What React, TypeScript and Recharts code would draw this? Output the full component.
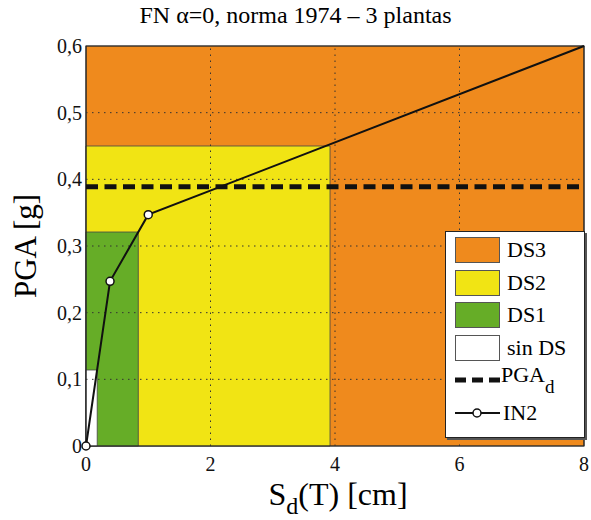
import { ComposedChart, Line, ReferenceArea, ReferenceLine, XAxis, YAxis } from "recharts"

const xTicks = [0, 2, 4, 6, 8]
const yTicks = [0, 0.1, 0.2, 0.3, 0.4, 0.5, 0.6]

// IN2 capacity curve
const in2X = [0, 0.386, 1.0, 8]
const in2Y = [0, 0.247, 0.347, 0.6]

const pgaD = 0.389

// damage state zones, each spans from the origin to (zoneX, zoneY)
const zoneNames = ["DS3", "DS2", "DS1", "sin DS"]
const zoneX = [8, 3.92, 0.84, 0.18]
const zoneY = [0.6, 0.45, 0.321, 0.114]
const zoneColors = ["#EF8A1D", "#F1E414", "#66AD27", "#FFFFFF"]

const font = "'Liberation Serif', 'DejaVu Serif', serif"

const in2Data = in2X.map((x, i) => ({ x, y: in2Y[i] }))

const fmtY = (v: number) => (v === 0 ? "0" : v.toFixed(1).replace(".", ","))

function Dot(props: any) {
  const { cx, cy, index } = props
  if (index > 2) return <g key={"d" + index} />
  return <circle key={"d" + index} cx={cx} cy={cy} r={4} fill="#fff" stroke="#111" strokeWidth={1.5} />
}

function LegendBox() {
  const row = { display: "flex", alignItems: "center", height: 32.5 }
  const txt = { marginLeft: 7, fontSize: 22 }
  return (
    <div
      style={{
        position: "absolute",
        left: 445,
        top: 231,
        width: 140,
        height: 207,
        background: "#fff",
        border: "1px solid #222",
        boxShadow: "2px 2px 0 #555",
        fontFamily: font,
        padding: "2px 0 0 9px",
        boxSizing: "border-box",
      }}
    >
      {zoneNames.map((n, i) => (
        <div key={n} style={row}>
          <div style={{ width: 45, height: 26, background: zoneColors[i], border: "1px solid #555", boxSizing: "border-box" }} />
          <span style={txt}>{n}</span>
        </div>
      ))}
      <div style={row}>
        <svg width={45} height={10}>
          <line x1={0} y1={5} x2={45} y2={5} stroke="#111" strokeWidth={5} strokeDasharray="11 6" />
        </svg>
        <span style={{ ...txt, marginLeft: 1 }}>
          PGA<sub style={{ fontSize: 19, verticalAlign: "-11px" }}>d</sub>
        </span>
      </div>
      <div style={row}>
        <svg width={45} height={12}>
          <line x1={0} y1={6} x2={45} y2={6} stroke="#111" strokeWidth={2} />
          <circle cx={22} cy={6} r={4} fill="#fff" stroke="#111" strokeWidth={1.5} />
        </svg>
        <span style={{ ...txt, marginLeft: 3 }}>IN2</span>
      </div>
    </div>
  )
}

export default function App() {
  return (
    <div style={{ position: "absolute", left: 0, top: 0, width: 591, height: 520, background: "#fff", fontFamily: font }}>
      <ComposedChart width={591} height={520} data={in2Data} margin={{ top: 46, right: 7, bottom: 0, left: 0 }}>
        {zoneNames.map((n, i) => (
          <ReferenceArea
            key={n}
            x1={0}
            x2={zoneX[i]}
            y1={0}
            y2={zoneY[i]}
            fill={zoneColors[i]}
            fillOpacity={1}
            stroke="#444"
            strokeOpacity={0.8}
            ifOverflow="visible"
          />
        ))}
        {xTicks.slice(1, -1).map((t) => (
          <ReferenceLine key={"gx" + t} x={t} stroke="#333" strokeDasharray="1.5 4.5" />
        ))}
        {yTicks.slice(1, -1).map((t) => (
          <ReferenceLine key={"gy" + t} y={t} stroke="#333" strokeDasharray="1.5 4.5" />
        ))}
        <XAxis
          xAxisId="in"
          dataKey="x"
          type="number"
          domain={[0, 8]}
          ticks={xTicks}
          height={0}
          mirror
          tick={false}
          tickSize={5}
          axisLine={false}
          stroke="#222"
        />
        <XAxis
          dataKey="x"
          type="number"
          domain={[0, 8]}
          ticks={xTicks}
          height={74}
          tickLine={false}
          axisLine={false}
          tickMargin={5}
          tick={{ fill: "#111", fontSize: 20, fontFamily: font }}
        />
        <XAxis
          xAxisId="top"
          orientation="top"
          dataKey="x"
          type="number"
          domain={[0, 8]}
          ticks={xTicks}
          height={0}
          mirror
          tick={false}
          tickSize={5}
          axisLine={false}
          stroke="#222"
        />
        <YAxis
          yAxisId="in"
          type="number"
          domain={[0, 0.6]}
          ticks={yTicks}
          width={0}
          mirror
          tick={false}
          tickSize={5}
          axisLine={false}
          stroke="#222"
        />
        <YAxis
          type="number"
          domain={[0, 0.6]}
          ticks={yTicks}
          width={86}
          tickLine={false}
          tickSize={4}
          axisLine={false}
          tickMargin={0}
          tickFormatter={fmtY}
          tick={{ fill: "#111", fontSize: 20, fontFamily: font }}
        />
        <YAxis
          yAxisId="right"
          orientation="right"
          type="number"
          domain={[0, 0.6]}
          ticks={yTicks}
          width={0}
          mirror
          tick={false}
          tickSize={5}
          axisLine={false}
          stroke="#222"
        />
        <ReferenceLine y={pgaD} stroke="#111" strokeWidth={5} strokeDasharray="12 6.5" />
        <Line
          dataKey="y"
          stroke="#111"
          strokeWidth={2}
          dot={Dot}
          activeDot={false}
          isAnimationActive={false}
        />
        <ReferenceArea x1={0} x2={8} y1={0} y2={0.6} fill="none" stroke="#222" strokeWidth={1.2} ifOverflow="visible" />
      </ComposedChart>
      <div style={{ position: "absolute", left: 0, width: 591, top: 2, textAlign: "center", fontSize: 24 }}>
        FN α=0, norma 1974 – 3 plantas
      </div>
      <div
        style={{
          position: "absolute",
          left: 26,
          top: 246,
          transform: "translate(-50%, -50%) rotate(-90deg)",
          fontSize: 31,
          whiteSpace: "nowrap",
        }}
      >
        PGA [g]
      </div>
      <div
        style={{
          position: "absolute",
          left: 338,
          top: 494,
          transform: "translate(-50%, -50%)",
          fontSize: 32,
          lineHeight: "30px",
          whiteSpace: "nowrap",
        }}
      >
        S<sub style={{ fontSize: 24, verticalAlign: "-9px", lineHeight: "0" }}>d</sub>(T) [cm]
      </div>
      <LegendBox />
    </div>
  )
}
